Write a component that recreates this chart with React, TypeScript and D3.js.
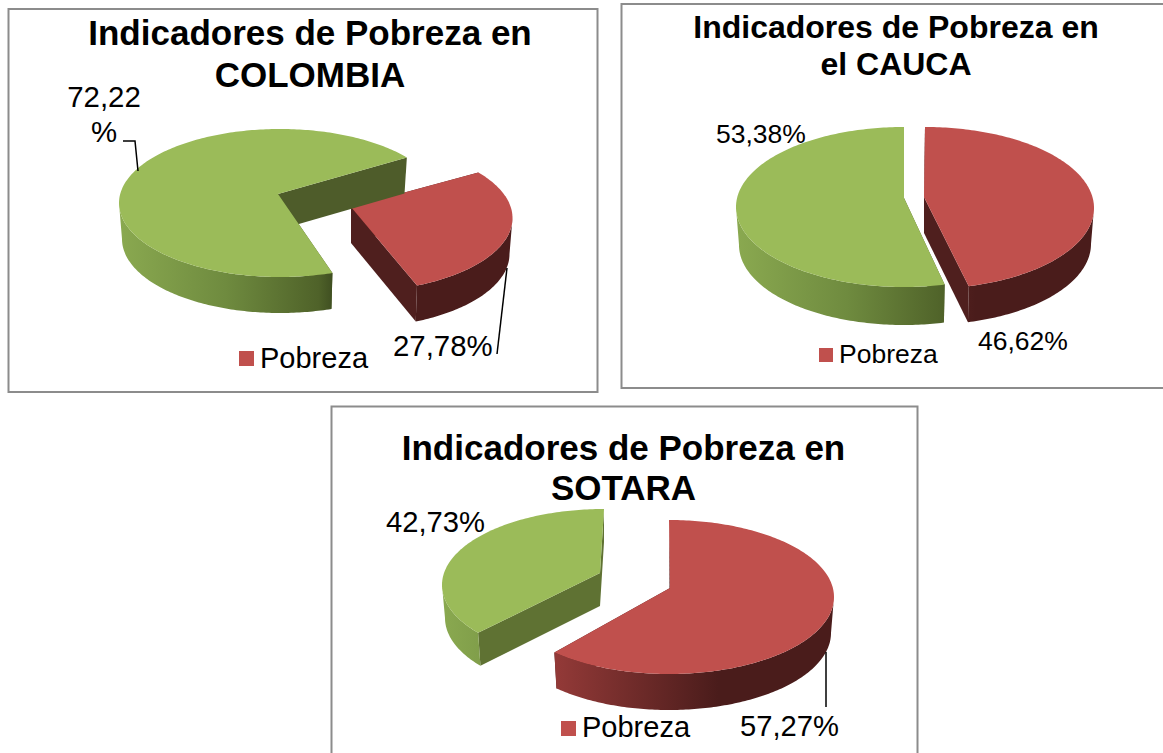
import { useEffect, useRef } from "react";
import * as d3 from "d3";

// values
const categories = ["Pobreza", "No pobreza"];
const colombiaValues = [27.78, 72.22];
const caucaValues = [46.62, 53.38];
const sotaraValues = [57.27, 42.73];

const colombiaTitle = ["Indicadores de Pobreza en", "COLOMBIA"];
const caucaTitle = ["Indicadores de Pobreza en", "el CAUCA"];
const sotaraTitle = ["Indicadores de Pobreza en", "SOTARA"];

const topColors = ["#c0504d", "#9bbb59"];

// layout of the three panels, pixels of the 1163x753 picture
const panels = [
    {
        id: "colombia",
        values: colombiaValues,
        title: colombiaTitle,
        frame: { x: 8.5, y: 9, w: 589, h: 383 },
        titleX: 310, titleY: [45, 87], titleSize: 35,
        labelSize: 29.4,
        labels: [
            { x: 393, y: 356, lines: null },
            { x: 104, y: 107, lines: ["72,22", "%"], lineY: [107, 142], anchor: "middle" },
        ],
        legend: { x: 239, y: 351, size: 15, textX: 260, textY: 368, font: 29 },
        leaders: [
            [[497, 354], [507, 268]],
            [[123, 141], [135, 141], [138, 171]],
        ],
        // perspective: where the slices really land on the ellipse, in degrees
        start: 52, cut: 156, gap: 5,
        slices: [
            { cx: 351.5, cy: 218, rx: 161, ry: 74, ax: 351, ay: 207, depth: 36 },
            { cx: 280, cy: 203, rx: 161, ry: 74, ax: 278, ay: 194, depth: 36 },
        ],
        wallColors: ["#4f1f1e", "#4e5c2a"],
    },
    {
        id: "cauca",
        values: caucaValues,
        title: caucaTitle,
        frame: { x: 621.5, y: 4, w: 548, h: 384 },
        titleX: 896, titleY: [38, 75], titleSize: 32,
        labelSize: 26.5,
        labels: [
            { x: 978, y: 350, lines: null },
            { x: 716, y: 143, lines: null },
        ],
        legend: { x: 819, y: 348, size: 14, textX: 839, textY: 363, font: 26.5 },
        leaders: [],
        start: 0, cut: 165, gap: 1,
        slices: [
            { cx: 925, cy: 208, rx: 169, ry: 81, ax: 924, ay: 197, depth: 36 },
            { cx: 904, cy: 207, rx: 168, ry: 80, ax: 904, ay: 198, depth: 38 },
        ],
        wallColors: ["#4f1f1e", "#4e5c2a"],
    },
    {
        id: "sotara",
        values: sotaraValues,
        title: sotaraTitle,
        frame: { x: 331.5, y: 406.5, w: 586, h: 370 },
        titleX: 623.5, titleY: [460, 500], titleSize: 35,
        labelSize: 29.2,
        labels: [
            { x: 740, y: 736, lines: null },
            { x: 386, y: 532, lines: null },
        ],
        legend: { x: 561, y: 721, size: 15, textX: 582, textY: 737, font: 29 },
        leaders: [
            [[826, 652], [826, 707]],
        ],
        start: 0, cut: 224, gap: 7,
        slices: [
            { cx: 669, cy: 597, rx: 165, ry: 77, ax: 670, ay: 588, depth: 36 },
            { cx: 604, cy: 585, rx: 162, ry: 76, ax: 600, ay: 573, depth: 33 },
        ],
        wallColors: ["#4f1f1e", "#5f7233"],
    },
];

const FONT = "'Liberation Sans', Arial, sans-serif";
const formatValue = (v: number) => `${v.toFixed(2).replace(".", ",")}%`;

const App = () => {
    const ref = useRef<SVGSVGElement>(null);

    useEffect(() => {
        const svg = d3.select(ref.current);
        svg.selectAll("*").remove();
        const defs = svg.append("defs");

        const line = d3.line<number[]>().x(d => d[0]).y(d => d[1]);
        const pie = d3.pie<number>().sort(null);

        panels.forEach(panel => {
            const g = svg.append("g").attr("id", panel.id);

            g.append("rect")
                .attr("x", panel.frame.x)
                .attr("y", panel.frame.y)
                .attr("width", panel.frame.w)
                .attr("height", panel.frame.h)
                .attr("fill", "#ffffff")
                .attr("stroke", "#8c8c8c")
                .attr("stroke-width", 2);

            const arcs = pie(panel.values);

            // pie angles -> angles on the drawn ellipse (perspective squeezes them)
            const toEllipse = d3.scaleLinear()
                .domain([0, arcs[0].endAngle, 2 * Math.PI])
                .range([panel.start, panel.cut, panel.start + 360]);

            arcs.forEach((arc, i) => {
                const s = panel.slices[i];
                const a0 = toEllipse(arc.startAngle) + (i === 1 ? panel.gap : 0);
                const a1 = toEllipse(arc.endAngle);

                const top = (t: number) => {
                    const r = (t * Math.PI) / 180;
                    return [s.cx + s.rx * Math.sin(r), s.cy - s.ry * Math.cos(r)];
                };
                // bottom rim is a little narrower
                const bottom = (t: number) => {
                    const r = (t * Math.PI) / 180;
                    return [s.cx + (s.rx - 3) * Math.sin(r), s.cy + s.depth - s.ry * Math.cos(r)];
                };

                const gradId = `wall-${panel.id}-${i}`;
                const grad = defs.append("linearGradient")
                    .attr("id", gradId)
                    .attr("gradientUnits", "userSpaceOnUse")
                    .attr("x1", s.cx - s.rx)
                    .attr("x2", s.cx + s.rx)
                    .attr("y1", 0)
                    .attr("y2", 0);
                const stops = i === 0
                    ? [[0, "#a04240"], [0.15, "#943a38"], [0.65, "#4a1c1b"], [1, "#4a1c1b"]]
                    : [[0, "#8aa950"], [0.33, "#6f8b3f"], [0.62, "#4f6229"], [0.67, "#3d4c20"], [1, "#3d4c20"]];
                stops.forEach(([o, c]) => grad.append("stop").attr("offset", o).attr("stop-color", c));

                // cut walls first, the top face hides whatever is behind it
                [a0, a1].forEach(t => {
                    const rim = top(t);
                    const rimLow = bottom(t);
                    g.append("path")
                        .attr("d", line([[s.ax, s.ay], rim, rimLow, [s.ax, s.ay + s.depth]]) + "Z")
                        .attr("fill", panel.wallColors[i]);
                });

                // outer wall, only the part facing the viewer
                const from = Math.max(a0, 90);
                const to = Math.min(a1, 270);
                if (to > from) {
                    const angles = d3.range(from, to, 1).concat(to);
                    const wall = angles.map(top).concat(angles.slice().reverse().map(bottom));
                    g.append("path")
                        .attr("d", line(wall) + "Z")
                        .attr("fill", `url(#${gradId})`);
                }

                // top face
                const rimAngles = d3.range(a0, a1, 1).concat(a1);
                const face = [[s.ax, s.ay], ...rimAngles.map(top)];
                g.append("path")
                    .attr("d", line(face) + "Z")
                    .attr("fill", topColors[i]);
            });

            panel.leaders.forEach(l => {
                g.append("path")
                    .attr("d", line(l))
                    .attr("fill", "none")
                    .attr("stroke", "#000000")
                    .attr("stroke-width", 1.5);
            });

            panel.title.forEach((t, i) => {
                g.append("text")
                    .attr("x", panel.titleX)
                    .attr("y", panel.titleY[i])
                    .attr("text-anchor", "middle")
                    .attr("font-family", FONT)
                    .attr("font-weight", "bold")
                    .attr("font-size", panel.titleSize)
                    .attr("fill", "#000000")
                    .text(t);
            });

            panel.labels.forEach((lab, i) => {
                const lines = lab.lines ?? [formatValue(panel.values[i])];
                lines.forEach((txt, k) => {
                    g.append("text")
                        .attr("x", lab.x)
                        .attr("y", lab.lineY ? lab.lineY[k] : lab.y)
                        .attr("text-anchor", lab.anchor ?? "start")
                        .attr("font-family", FONT)
                        .attr("font-size", panel.labelSize)
                        .attr("fill", "#000000")
                        .text(txt);
                });
            });

            g.append("rect")
                .attr("x", panel.legend.x)
                .attr("y", panel.legend.y)
                .attr("width", panel.legend.size)
                .attr("height", panel.legend.size)
                .attr("fill", topColors[0]);
            g.append("text")
                .attr("x", panel.legend.textX)
                .attr("y", panel.legend.textY)
                .attr("font-family", FONT)
                .attr("font-size", panel.legend.font)
                .attr("fill", "#000000")
                .text(categories[0]);
        });
    }, []);

    return (
        <svg
            ref={ref}
            width={1163}
            height={753}
            style={{ position: "absolute", left: 0, top: 0, background: "#ffffff" }}
        />
    );
};

export default App;
